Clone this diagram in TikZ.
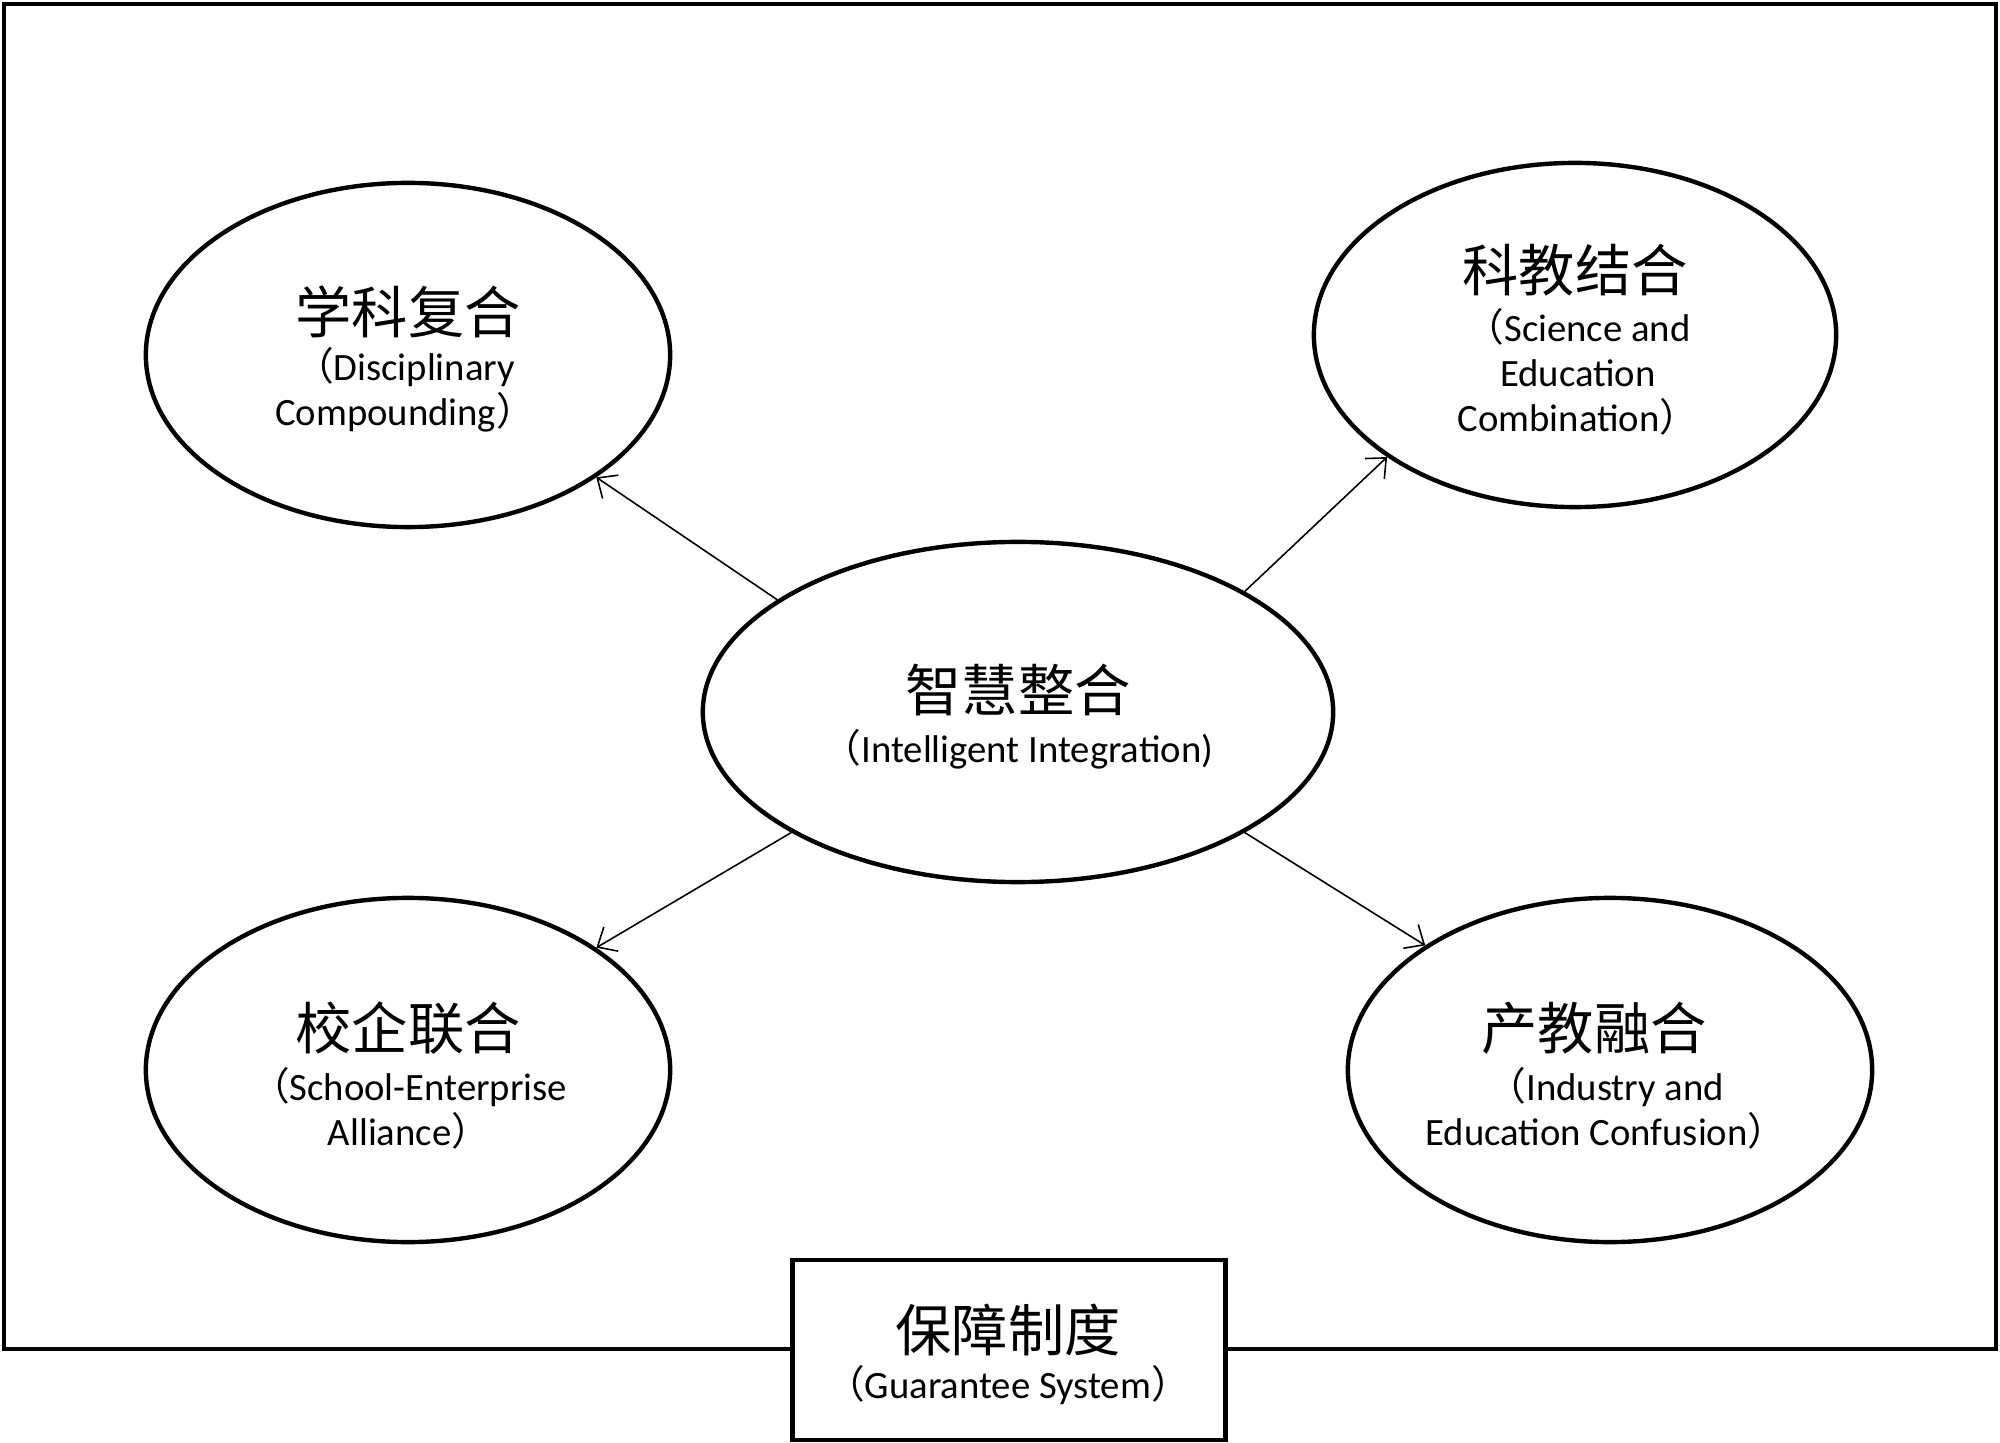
\documentclass[tikz,border=0pt]{standalone}
\usepackage{fontspec}
\setmainfont{Carlito}
\newfontfamily\cjk{Noto Sans CJK SC}
\usetikzlibrary{shapes.geometric,arrows.meta}
\newcommand{\lp}{{\cjk （}}
\newcommand{\rp}{{\cjk ）}}
\tikzset{
  bubble/.style={draw,ellipse,line width=1.25pt,inner sep=0pt,fill=white},
  zh/.style={font=\cjk\fontsize{16pt}{19pt}\selectfont,inner sep=0pt},
  en/.style={font=\fontsize{11pt}{12.8pt}\selectfont,align=center,inner sep=0pt},
  link/.style={line width=0.45pt,-{Straight Barb[length=4.5pt,width=8pt,line width=0.45pt]}}
}
\begin{document}
\begin{tikzpicture}[x=0.01cm,y=-0.01cm]
\useasboundingbox (0,0) rectangle (2000,1443);
\draw[line width=1.25pt] (4,4) rectangle (1996,1349);
\node[draw,line width=1.25pt,fill=white,minimum width=4.33cm,minimum height=1.8cm,inner sep=0pt] (gs) at (1009,1350) {};
\node[zh] (gszh) at (1008,1330) {保障制度};
\node[en] (gsen) at (1008,1385) {\lp Guarantee System\rp};

\node[bubble,minimum width=6.3cm,minimum height=3.4cm] (c) at (1018,712) {};
\node[bubble,minimum width=5.24cm,minimum height=3.44cm] (tl) at (408,355) {};
\node[bubble,minimum width=5.22cm,minimum height=3.44cm] (tr) at (1575,335) {};
\node[bubble,minimum width=5.24cm,minimum height=3.44cm] (bl) at (408,1070) {};
\node[bubble,minimum width=5.24cm,minimum height=3.44cm] (br) at (1610,1070) {};

\node[zh] (czh) at (1018,690) {智慧整合};
\node[en] (cen) at (1018,749) {\lp Intelligent Integration)};

\node[zh] (tlzh) at (408,312) {学科复合};
\node[en] (tlen) at (405,390) {\lp Disciplinary\\Compounding\rp};

\node[zh] (trzh) at (1575,270) {科教结合};
\node[en] (tren) at (1578,372) {\lp Science and\\Education\\Combination\rp};

\node[zh] (blzh) at (408,1028) {校企联合};
\node[en] (blen) at (409,1108) {\lp School-Enterprise\\Alliance\rp};

\node[zh] (brzh) at (1594,1028) {产教融合};
\node[en] (bren) at (1606,1108) {\lp Industry and\\Education Confusion\rp};

\draw[link] (c.155.9) -- (tl.-33.3);
\draw[link] (c.28.5) -- (tr.-147);
\draw[link] (c.208.7) -- (bl.33);
\draw[link] (c.-28.9) -- (br.146.6);
\end{tikzpicture}
\end{document}
